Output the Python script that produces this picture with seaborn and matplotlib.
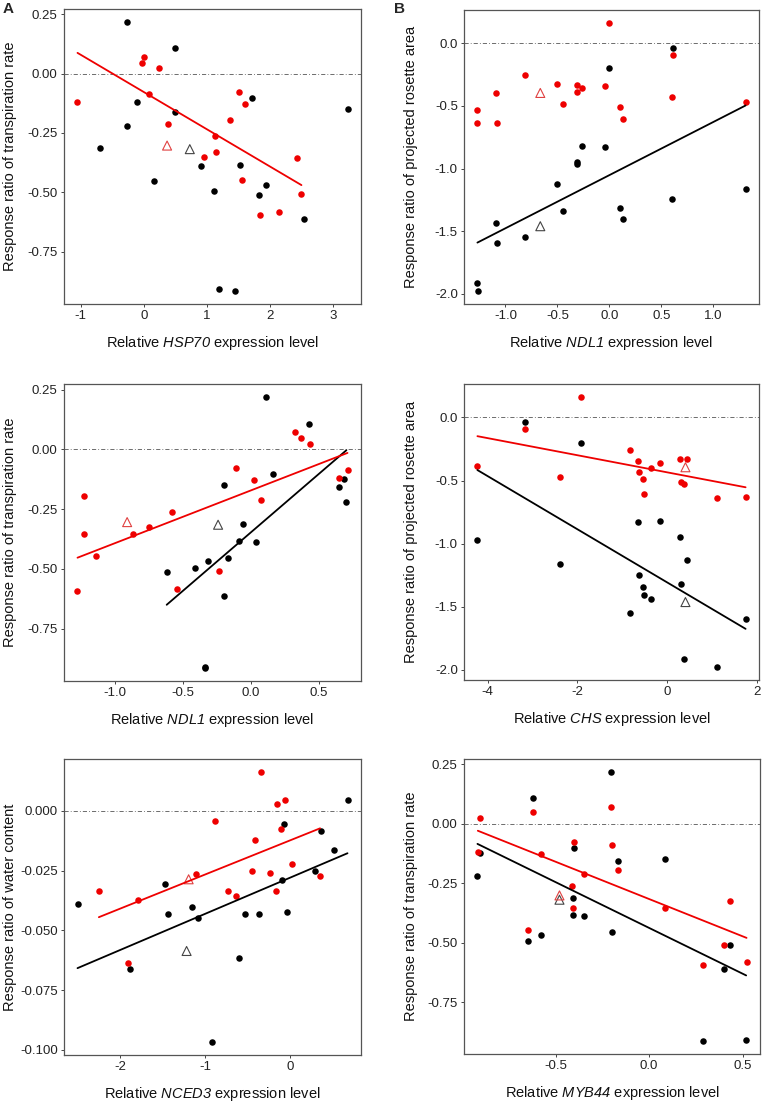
import matplotlib
matplotlib.use("Agg")
import matplotlib.pyplot as plt
import seaborn as sns
import numpy as np
from matplotlib.ticker import FixedLocator, FormatStrFormatter

# --- A, top: HSP70 vs transpiration rate
hsp70_black_x = [-0.27, 0.49, -0.10, 0.50, -0.26, -0.70, 0.17, 0.90, 1.12, 1.53, 1.71, 1.83, 1.94, 2.54, 3.23, 1.20, 1.45]
hsp70_black_y = [0.215, 0.107, -0.121, -0.160, -0.222, -0.314, -0.454, -0.388, -0.494, -0.385, -0.104, -0.511, -0.468, -0.611, -0.151, -0.908, -0.913]
hsp70_red_x = [-1.05, -0.03, 0.01, 0.24, 0.09, 0.38, 1.13, 0.95, 1.15, 1.36, 1.51, 1.61, 1.56, 1.84, 2.15, 2.43, 2.50]
hsp70_red_y = [-0.119, 0.046, 0.069, 0.022, -0.088, -0.211, -0.263, -0.353, -0.328, -0.197, -0.076, -0.129, -0.449, -0.593, -0.582, -0.354, -0.508]
hsp70_tri_x = [0.73, 0.37]      # black, red
hsp70_tri_y = [-0.318, -0.303]

# --- B, top: NDL1 vs projected rosette area
ndl1_area_black_x = [0.614, 0.0, -0.26, -0.04, -0.31, -0.31, -0.50, -0.45, 0.10, 0.13, 0.60, 1.31, -1.09, -1.08, -0.81, -1.27, -1.26]
ndl1_area_black_y = [-0.037, -0.2, -0.818, -0.826, -0.95, -0.966, -1.124, -1.339, -1.318, -1.405, -1.242, -1.163, -1.437, -1.595, -1.545, -1.913, -1.974]
ndl1_area_red_x = [0.0, 0.614, -0.81, -0.50, -0.31, -0.31, -0.26, -0.04, -0.45, 0.10, 0.13, 0.60, 1.31, -1.09, -1.08, -1.27, -1.27]
ndl1_area_red_y = [0.158, -0.092, -0.255, -0.326, -0.332, -0.389, -0.358, -0.345, -0.484, -0.508, -0.603, -0.432, -0.468, -0.40, -0.634, -0.532, -0.639]
ndl1_area_tri_x = [-0.665, -0.665]
ndl1_area_tri_y = [-1.46, -0.397]

# --- A, middle: NDL1 vs transpiration rate
ndl1_tr_black_x = [0.112, 0.426, 0.163, -0.197, 0.645, 0.684, 0.70, -0.061, -0.09, 0.036, -0.168, -0.316, -0.411, -0.618, -0.197, -0.336, -0.336]
ndl1_tr_black_y = [0.217, 0.107, -0.104, -0.15, -0.158, -0.122, -0.221, -0.3125, -0.385, -0.3875, -0.454, -0.468, -0.494, -0.511, -0.611, -0.91, -0.912]
ndl1_tr_red_x = [0.324, 0.367, 0.436, 0.708, 0.642, -0.112, 0.024, 0.075, -1.226, -1.226, -1.136, -1.272, -0.864, -0.745, -0.579, -0.540, -0.231]
ndl1_tr_red_y = [0.071, 0.047, 0.022, -0.088, -0.119, -0.076, -0.128, -0.21, -0.196, -0.353, -0.447, -0.593, -0.353, -0.326, -0.261, -0.582, -0.507]
ndl1_tr_tri_x = [-0.241, -0.908]
ndl1_tr_tri_y = [-0.315, -0.304]

# --- B, middle: CHS vs projected rosette area
chs_black_x = [-3.17, -1.93, -4.23, -2.38, -0.644, -0.156, 0.289, 0.444, -0.63, -0.533, -0.519, -0.37, 0.304, -0.837, 1.748, 0.385, 1.111]
chs_black_y = [-0.039, -0.2, -0.968, -1.163, -0.829, -0.824, -0.95, -1.126, -1.245, -1.342, -1.408, -1.439, -1.321, -1.547, -1.595, -1.916, -1.974]
chs_red_x = [-1.93, -3.17, -4.23, -2.38, -0.837, -0.644, -0.63, -0.533, -0.519, -0.37, -0.156, 0.289, 0.444, 0.304, 0.385, 1.111, 1.748]
chs_red_y = [0.158, -0.095, -0.389, -0.471, -0.255, -0.345, -0.434, -0.487, -0.605, -0.40, -0.358, -0.332, -0.326, -0.508, -0.529, -0.637, -0.634]
chs_tri_x = [0.407, 0.407]
chs_tri_y = [-1.463, -0.395]

# --- A, bottom: NCED3 vs water content
nced3_black_x = [0.671, -0.078, 0.365, 0.518, 0.29, -0.094, -0.039, -0.533, -0.369, -1.47, -1.443, -1.161, -1.09, -2.502, -1.882, -0.6, -0.922]
nced3_black_y = [0.0046, -0.0056, -0.0085, -0.0163, -0.025, -0.029, -0.0422, -0.0433, -0.0431, -0.0306, -0.0433, -0.0403, -0.0449, -0.0388, -0.066, -0.0617, -0.0965]
nced3_red_x = [-0.345, -0.153, -0.059, -0.882, -0.114, -0.42, 0.349, 0.016, -0.235, -0.447, -0.169, -0.635, -0.729, -1.106, -1.792, -2.251, -1.906]
nced3_red_y = [0.0161, 0.0031, 0.0047, -0.0042, -0.0074, -0.0121, -0.0271, -0.0222, -0.0261, -0.0253, -0.0336, -0.0356, -0.0336, -0.0265, -0.0371, -0.0336, -0.0636]
nced3_tri_x = [-1.22, -1.196]
nced3_tri_y = [-0.0586, -0.0286]

# --- B, bottom: MYB44 vs transpiration rate
myb44_black_x = [-0.206, -0.622, -0.904, -0.917, -0.399, -0.165, 0.085, -0.406, -0.406, -0.348, -0.199, -0.578, -0.649, 0.433, 0.397, 0.285, 0.518]
myb44_black_y = [0.215, 0.107, -0.122, -0.221, -0.104, -0.158, -0.15, -0.3125, -0.385, -0.386, -0.453, -0.467, -0.493, -0.511, -0.61, -0.91, -0.907]
myb44_red_x = [-0.902, -0.621, -0.206, -0.915, -0.578, -0.399, -0.200, -0.165, -0.348, -0.410, -0.408, -0.649, 0.085, 0.431, 0.397, 0.285, 0.520]
myb44_red_y = [0.022, 0.047, 0.069, -0.119, -0.128, -0.075, -0.0875, -0.196, -0.21, -0.261, -0.353, -0.446, -0.353, -0.326, -0.507, -0.593, -0.581]
myb44_tri_x = [-0.479, -0.479]
myb44_tri_y = [-0.319, -0.301]

RED = "#ee0000"
BLACK = "#000000"

sns.set_theme(style="white")
plt.rcParams["font.family"] = ["Liberation Sans", "DejaVu Sans"]
plt.rcParams["axes.unicode_minus"] = False
# gene names go through mathtext \mathrm, mapped to the italic face
plt.rcParams["mathtext.fontset"] = "custom"
plt.rcParams["mathtext.rm"] = "Liberation Sans:italic"
plt.rcParams["mathtext.it"] = "Liberation Sans:italic"

W, H = 764, 1101
fig = plt.figure(figsize=(W / 100, H / 100), dpi=100)


def make_ax(l, t, r, b):
    return fig.add_axes([l / W, 1 - b / H, (r - l) / W, (b - t) / H])


def panel(ax, bx, by, rx, ry, tx, ty, fits, xticks, xfmt, yticks, yfmt, gene, ylabel):
    ax.axhline(0, color="#555555", lw=0.6, ls=(0, (5, 2.5, 1, 2.5)), zorder=1)
    sns.scatterplot(x=bx, y=by, color=BLACK, s=22, linewidth=0, ax=ax, zorder=3)
    sns.scatterplot(x=rx, y=ry, color=RED, s=22, linewidth=0, ax=ax, zorder=3)
    ax.scatter(tx[:1], ty[:1], marker="^", s=42, facecolors="none", edgecolors="#444444", linewidths=0.8, zorder=3)
    ax.scatter(tx[1:], ty[1:], marker="^", s=42, facecolors="none", edgecolors="#e04040", linewidths=0.8, zorder=3)
    if "black" in fits:
        sns.regplot(x=np.array(bx), y=np.array(by), scatter=False, ci=None, color=BLACK,
                    line_kws=dict(lw=1.3, zorder=4), ax=ax)
    if "red" in fits:
        sns.regplot(x=np.array(rx), y=np.array(ry), scatter=False, ci=None, color=RED,
                    line_kws=dict(lw=1.3, zorder=4), ax=ax)
    ax.margins(0.05)
    ax.xaxis.set_major_locator(FixedLocator(xticks))
    ax.yaxis.set_major_locator(FixedLocator(yticks))
    ax.xaxis.set_major_formatter(FormatStrFormatter(xfmt))
    ax.yaxis.set_major_formatter(FormatStrFormatter(yfmt))
    ax.tick_params(axis="both", which="major", length=2.5, width=0.7, color="#444444",
                   labelsize=9.5, labelcolor="#222222", pad=2, bottom=True, left=True)
    for sp in ax.spines.values():
        sp.set_color("#555555")
        sp.set_linewidth(0.9)
    ax.set_xlabel(r"Relative $\mathrm{" + gene + r"}$ expression level", fontsize=10.5, color="#111111")
    ax.set_ylabel(ylabel, fontsize=10.5, color="#111111")
    ax.xaxis.set_label_coords(0.5, -39 / (ax.bbox.height))
    ax.xaxis.label.set_va("center")
    ax.yaxis.set_label_coords(-53.5 / (ax.bbox.width), 0.5)
    ax.yaxis.label.set_va("center")


tr = "Response ratio of transpiration rate"
ar = "Response ratio of projected rosette area"
wc = "Response ratio of water content"

ax1 = make_ax(64, 9, 361, 304)
panel(ax1, hsp70_black_x, hsp70_black_y, hsp70_red_x, hsp70_red_y, hsp70_tri_x, hsp70_tri_y,
      ["red"], [-1, 0, 1, 2, 3], "%d", [0.25, 0, -0.25, -0.5, -0.75], "%.2f", "HSP70", tr)

ax2 = make_ax(464, 10, 759, 304)
panel(ax2, ndl1_area_black_x, ndl1_area_black_y, ndl1_area_red_x, ndl1_area_red_y, ndl1_area_tri_x, ndl1_area_tri_y,
      ["black"], [-1.0, -0.5, 0.0, 0.5, 1.0], "%.1f", [0.0, -0.5, -1.0, -1.5, -2.0], "%.1f", "NDL1", ar)

ax3 = make_ax(64, 384, 361, 681)
panel(ax3, ndl1_tr_black_x, ndl1_tr_black_y, ndl1_tr_red_x, ndl1_tr_red_y, ndl1_tr_tri_x, ndl1_tr_tri_y,
      ["black", "red"], [-1.0, -0.5, 0.0, 0.5], "%.1f", [0.25, 0, -0.25, -0.5, -0.75], "%.2f", "NDL1", tr)

ax4 = make_ax(464, 384, 759, 680)
panel(ax4, chs_black_x, chs_black_y, chs_red_x, chs_red_y, chs_tri_x, chs_tri_y,
      ["black", "red"], [-4, -2, 0, 2], "%d", [0.0, -0.5, -1.0, -1.5, -2.0], "%.1f", "CHS", ar)

ax5 = make_ax(64, 759, 361, 1055)
panel(ax5, nced3_black_x, nced3_black_y, nced3_red_x, nced3_red_y, nced3_tri_x, nced3_tri_y,
      ["black", "red"], [-2, -1, 0], "%d", [0.0, -0.025, -0.05, -0.075, -0.1], "%.3f", "NCED3", wc)

ax6 = make_ax(464, 759, 760, 1054)
panel(ax6, myb44_black_x, myb44_black_y, myb44_red_x, myb44_red_y, myb44_tri_x, myb44_tri_y,
      ["black", "red"], [-0.5, 0.0, 0.5], "%.1f", [0.25, 0, -0.25, -0.5, -0.75], "%.2f", "MYB44", tr)

fig.text(3 / W, 1 - 2 / H, "A", fontsize=11, fontweight="bold", va="top", ha="left")
fig.text(394 / W, 1 - 2 / H, "B", fontsize=11, fontweight="bold", va="top", ha="left")

fig.savefig("out.png", dpi=100)
